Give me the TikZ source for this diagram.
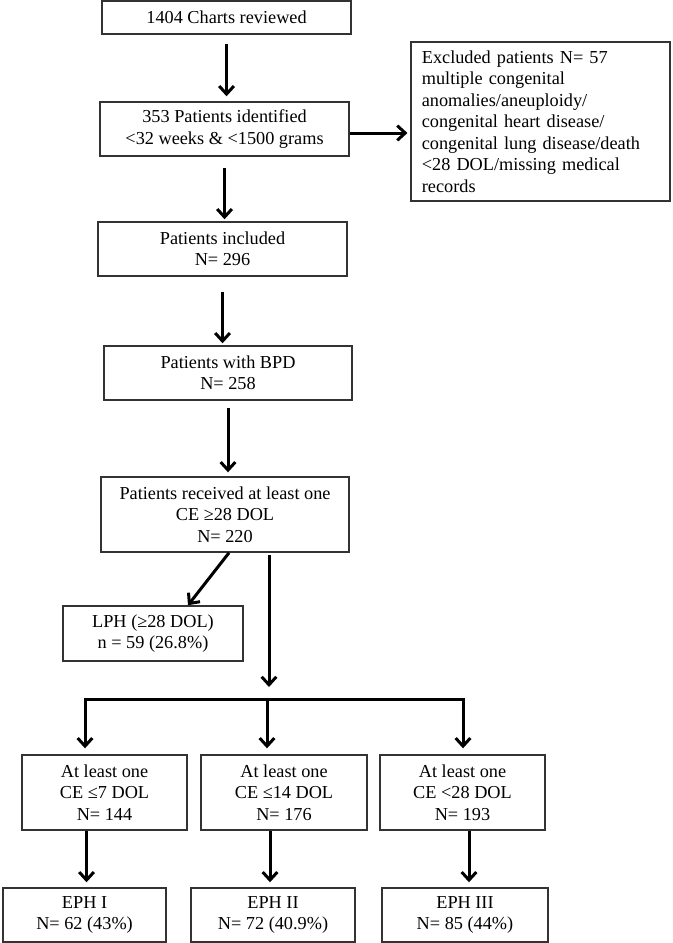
\documentclass[tikz,border=0pt]{standalone}
\usepackage{fontspec}
\setmainfont{Liberation Serif}
\usetikzlibrary{arrows.meta}

\begin{document}
\begin{tikzpicture}[node distance=90pt]

    \tikzstyle{box} = [rectangle, minimum width=186.75pt, minimum height=40.5pt, inner sep=2pt, text centered, align=center, draw=black!80, line width=1.1pt, font=\fontsize{13.7}{16.1}\selectfont]
    \tikzstyle{small_box} = [box, minimum width=123.75pt, minimum height=56.25pt]
    \tikzstyle{excl_box} = [rectangle, text width=178pt, minimum height=119.25pt, inner xsep=8pt, align=left, draw=black!80, line width=1.1pt, font=\fontsize{13.7}{16.1}\selectfont]
    \tikzstyle{arrow} = [line width=2.25pt, -{Straight Barb[length=6pt, width=11pt]}]
    \tikzstyle{line} = [line width=2.25pt, line cap=rect]

    \useasboundingbox (0,0) rectangle (504pt,-707.25pt);

            % node[Optionen](Name){Inhalt}
            \node (Charts) [box, minimum height=24.75pt] at (169.9pt,-13.1pt) {1404 Charts reviewed};
            \node (Identified) [box, below of=Charts, xshift=-1.5pt, yshift=6.35pt] {353 Patients identified\\<32 weeks \& <1500 grams};
            \node (Excluded) [excl_box, right of=Identified, node distance=237pt, yshift=5.65pt] {Excluded patients N= 57\\multiple congenital\\anomalies/aneuploidy/\\congenital heart disease/\\congenital lung disease/death\\<28 DOL/missing medical\\records};

            \node (Included) [box, below of=Identified, xshift=-1.5pt] {Patients included\\N= 296};
            \node (BPD) [box, minimum width=186pt, below of=Included, xshift=4.1pt, yshift=-3pt] {Patients with BPD\\N= 258};
            \node (Received) [box, minimum width=186pt, minimum height=56.25pt, below of=BPD, xshift=-2.25pt, yshift=-16.15pt] {Patients received at least one\\CE ≥28 DOL\\N= 220};

            \node (LPH) [box, minimum width=135pt, minimum height=41.25pt, below of=Received, xshift=-54pt, yshift=0.8pt] {LPH (≥28 DOL)\\n = 59 (26.8\%)};

            \node (Split) [coordinate, below of=Received, xshift=31.5pt, yshift=-48.35pt] {};
            \node (Split_left) [coordinate, left of=Split, node distance=136.5pt] {};
            \node (Split_right) [coordinate, right of=Split, node distance=147pt] {};

            \node (CE14) [small_box, minimum width=124.5pt, below of=Split, xshift=12.75pt, yshift=19.85pt] {At least one\\CE ≤14 DOL\\N= 176};
            \node (CE7) [small_box, left of=CE14, node distance=134.6pt] {At least one\\CE ≤7 DOL\\N= 144};
            \node (CE28) [small_box, right of=CE14, node distance=133.9pt] {At least one\\CE <28 DOL\\N= 193};

            \node (EPH1) [box, minimum width=122.25pt, below of=CE7, xshift=-15pt, yshift=-1.85pt] {EPH I\\N= 62 (43\%)};
            \node (EPH2) [box, minimum width=123pt, below of=CE14, xshift=-8.25pt, yshift=-1.85pt] {EPH II\\N= 72 (40.9\%)};
            \node (EPH3) [box, minimum width=124.5pt, below of=CE28, xshift=1.85pt, yshift=-1.85pt] {EPH III\\N= 85 (44\%)};

            % ----- ----- ----- ----- ----- ----- ----- ----- -----

            \draw [arrow, shorten <=6.75pt, shorten >=3.75pt] (Charts.south) -- (Charts.south |- Identified.north);
            \draw [arrow, shorten >=2.25pt] ([yshift=-3pt]Identified.east) -- ([yshift=-3pt]Identified.east -| Excluded.west);
            \draw [arrow, shorten <=8.25pt, shorten >=1.5pt] (Identified.south) -- (Identified.south |- Included.north);
            \draw [arrow, shorten <=11.25pt, shorten >=1.5pt] (Included.south) -- (Included.south |- BPD.north);
            \draw [arrow, shorten <=5.25pt, shorten >=3pt] (BPD.south) -- (BPD.south |- Received.north);
            \draw [arrow] ([xshift=3pt]Received.south) -- ([xshift=26.25pt]LPH.north);
            \draw [arrow, shorten <=1.5pt, shorten >=9pt] ([xshift=1.5pt]Split |- Received.south) -- ([xshift=1.5pt]Split);
            \draw [line] (Split_left) -- (Split_right);
            \draw [arrow, shorten >=4.5pt] (Split_left) -- (Split_left |- CE7.north);
            \draw [arrow, shorten >=4.5pt] (Split) -- (Split |- CE14.north);
            \draw [arrow, shorten >=4.5pt] (Split_right) -- (Split_right |- CE28.north);
            \draw [arrow, shorten >=3.75pt] ([xshift=1.5pt]EPH1.north |- CE7.south) -- ([xshift=1.5pt]EPH1.north);
            \draw [arrow, shorten >=3.75pt] ([xshift=-2.25pt]EPH2.north |- CE14.south) -- ([xshift=-2.25pt]EPH2.north);
            \draw [arrow, shorten >=3.75pt] ([xshift=3pt]EPH3.north |- CE28.south) -- ([xshift=3pt]EPH3.north);
\end{tikzpicture}
\end{document}
